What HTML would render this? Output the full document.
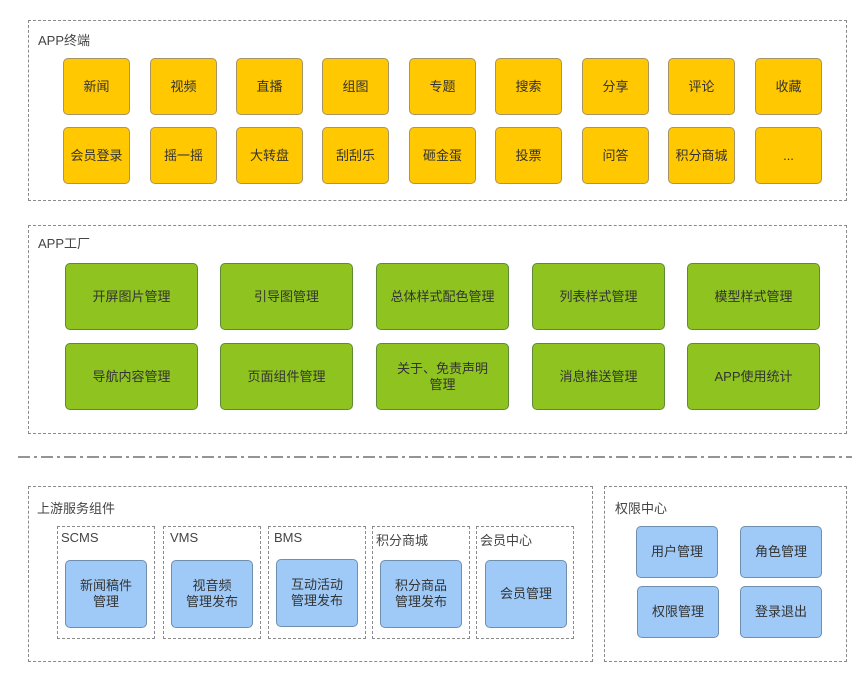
<!DOCTYPE html>
<html><head><meta charset="utf-8"><style>
body{margin:0;width:860px;height:674px;background:#fff;position:relative;overflow:hidden;font-family:"Liberation Sans","Noto Sans CJK SC",sans-serif;color:#333}
.d{position:absolute;border:1.3px dashed #8a8a8a;box-sizing:border-box}
.t{position:absolute;font-size:13px;color:#444}
.b{position:absolute;box-sizing:border-box;border-radius:5px;display:flex;align-items:center;justify-content:center;text-align:center;font-size:13px;line-height:16px}
.y{background:#ffc800;border:1px solid #a89460;width:67px;height:57px}
.g{background:#8fc31f;border:1px solid #5f8a35;width:133px;height:67px}
.u{background:#9fcaf7;border:1px solid #6f8fae}
</style></head><body>
<div class="d" style="left:28px;top:20px;width:819px;height:181px"></div>
<div class="t" style="left:38px;top:30px">APP终端</div>
<div class="b y" style="left:63px;top:58px">新闻</div>
<div class="b y" style="left:150px;top:58px">视频</div>
<div class="b y" style="left:236px;top:58px">直播</div>
<div class="b y" style="left:322px;top:58px">组图</div>
<div class="b y" style="left:409px;top:58px">专题</div>
<div class="b y" style="left:495px;top:58px">搜索</div>
<div class="b y" style="left:582px;top:58px">分享</div>
<div class="b y" style="left:668px;top:58px">评论</div>
<div class="b y" style="left:755px;top:58px">收藏</div>
<div class="b y" style="left:63px;top:127px">会员登录</div>
<div class="b y" style="left:150px;top:127px">摇一摇</div>
<div class="b y" style="left:236px;top:127px">大转盘</div>
<div class="b y" style="left:322px;top:127px">刮刮乐</div>
<div class="b y" style="left:409px;top:127px">砸金蛋</div>
<div class="b y" style="left:495px;top:127px">投票</div>
<div class="b y" style="left:582px;top:127px">问答</div>
<div class="b y" style="left:668px;top:127px">积分商城</div>
<div class="b y" style="left:755px;top:127px">...</div>

<div class="d" style="left:28px;top:225px;width:819px;height:209px"></div>
<div class="t" style="left:38px;top:233px">APP工厂</div>
<div class="b g" style="left:65px;top:263px">开屏图片管理</div>
<div class="b g" style="left:220px;top:263px">引导图管理</div>
<div class="b g" style="left:376px;top:263px">总体样式配色管理</div>
<div class="b g" style="left:532px;top:263px">列表样式管理</div>
<div class="b g" style="left:687px;top:263px">模型样式管理</div>
<div class="b g" style="left:65px;top:343px">导航内容管理</div>
<div class="b g" style="left:220px;top:343px">页面组件管理</div>
<div class="b g" style="left:376px;top:343px">关于、免责声明<br>管理</div>
<div class="b g" style="left:532px;top:343px">消息推送管理</div>
<div class="b g" style="left:687px;top:343px">APP使用统计</div>

<svg style="position:absolute;left:0;top:0" width="860" height="674"><line x1="18" y1="457" x2="852" y2="457" stroke="#555" stroke-width="1.3" stroke-dasharray="12,4,3,4"/></svg>

<div class="d" style="left:28px;top:486px;width:565px;height:176px"></div>
<div class="t" style="left:37px;top:498px">上游服务组件</div>
<div class="d" style="left:57px;top:526px;width:98px;height:113px"></div>
<div class="t" style="left:61px;top:530px">SCMS</div>
<div class="b u" style="left:65px;top:560px;width:82px;height:68px">新闻稿件<br>管理</div>
<div class="d" style="left:163px;top:526px;width:98px;height:113px"></div>
<div class="t" style="left:170px;top:530px">VMS</div>
<div class="b u" style="left:171px;top:560px;width:82px;height:68px">视音频<br>管理发布</div>
<div class="d" style="left:268px;top:526px;width:98px;height:113px"></div>
<div class="t" style="left:274px;top:530px">BMS</div>
<div class="b u" style="left:276px;top:559px;width:82px;height:68px">互动活动<br>管理发布</div>
<div class="d" style="left:372px;top:526px;width:98px;height:113px"></div>
<div class="t" style="left:376px;top:530px">积分商城</div>
<div class="b u" style="left:380px;top:560px;width:82px;height:68px">积分商品<br>管理发布</div>
<div class="d" style="left:476px;top:526px;width:98px;height:113px"></div>
<div class="t" style="left:480px;top:530px">会员中心</div>
<div class="b u" style="left:485px;top:560px;width:82px;height:68px">会员管理</div>

<div class="d" style="left:604px;top:486px;width:243px;height:176px"></div>
<div class="t" style="left:615px;top:498px">权限中心</div>
<div class="b u" style="left:636px;top:526px;width:82px;height:52px">用户管理</div>
<div class="b u" style="left:740px;top:526px;width:82px;height:52px">角色管理</div>
<div class="b u" style="left:637px;top:586px;width:82px;height:52px">权限管理</div>
<div class="b u" style="left:740px;top:586px;width:82px;height:52px">登录退出</div>
</body></html>
